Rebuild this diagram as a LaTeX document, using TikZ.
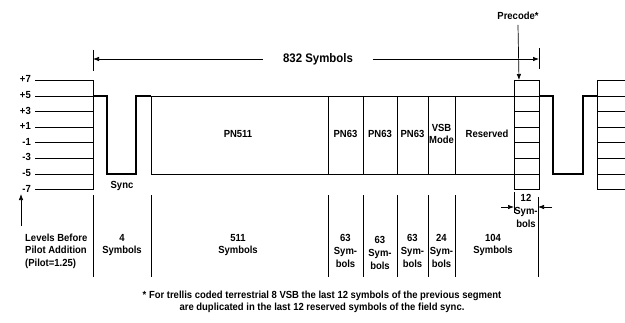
\documentclass[tikz,border=0pt]{standalone}
\usepackage{fontspec}
\setmainfont{Liberation Sans}[FakeStretch=0.92]
\usetikzlibrary{arrows.meta,positioning}

% level heights (y grows downward)
\def\ytop{80}
\def\yhi{96}
\def\ylo{174}
\def\ybot{190}

\begin{document}
\begin{tikzpicture}[x=1pt, y=-1pt,
    lvl/.style={line width=0.7pt},
    sig/.style={line width=1.6pt},
    dim/.style={-{Latex[length=6pt,width=4.5pt]}, line width=0.7pt},
    lbl/.style={font=\bfseries\fontsize{10.3}{12.6}\selectfont, align=center, inner sep=0pt}
]
    \useasboundingbox (0,0) rectangle (625,322);

    % Levels and the two level boxes
    \foreach \l in {7,5,...,-7}{
        \pgfmathsetmacro\yy{135-7.8*\l}
        \draw[lvl] (35,\yy) -- (93,\yy);
        \draw[lvl] (514,\yy) -- (539,\yy);
        \draw[lvl] (597,\yy) -- (625,\yy);
        \node[lbl, anchor=east] (lv\l) at (31,\yy-1) {\ifnum\l>0 +\fi\l};
    }
    \draw[lvl] (93,\ytop) -- (93,\ybot);
    \draw[lvl] (514,\ytop) -- (514,\ybot);
    \draw[lvl] (539,\ytop) -- (539,\ybot);
    \draw[lvl] (597,\ytop) -- (597,\ybot);

    % Data segment frame
    \draw[lvl] (151,\yhi) -- (553,\yhi);
    \draw[lvl] (151,\yhi) -- (151,\ylo) -- (514,\ylo);
    \foreach \x in {328,363,397,428,455}
        \draw[lvl] (\x,\yhi) -- (\x,\ylo);

    % Sync pulses
    \draw[sig] (93,\yhi) -| (107,\ylo) -| (136,\yhi) -- (151,\yhi);
    \draw[sig] (539,\yhi) -| (553,\ylo) -| (583,\yhi) -- (597,\yhi);

    % Labels in the segment
    \node[lbl] (sync) at (122,186) {Sync};
    \node[lbl] (pn511) at (238,134) {PN511};
    \node[lbl] (pnA) at (345.5,134) {PN63};
    \node[lbl] (pnB) at (380,134) {PN63};
    \node[lbl] (pnC) at (412.5,134) {PN63};
    \node[lbl] (vsb) at (441.5,134) {VSB\\Mode};
    \node[lbl] (resv) at (487,134) {Reserved};

    % 832 symbols
    \coordinate (tickL) at (93,59);
    \coordinate (tickR) at (539,59);
    \draw[lvl] (93,50) -- (93,71);
    \draw[lvl] (539,48) -- (539,69);
    \node[lbl, font=\bfseries\fontsize{12.4}{14}\selectfont, inner xsep=20pt] (total) at (318,59) {832 Symbols};
    \draw[dim] (total.west) -- (tickL);
    \draw[dim] (total.east) -- (tickR);

    % Precode
    \coordinate (pcTop) at (519,\ytop);
    \node[lbl] (precode) at (518,16) {Precode*};
    \draw[dim] ([yshift=-5pt]precode.south) -- (pcTop);

    % Bottom columns
    \foreach \x in {93,151,328,363,397,428,455}
        \draw[lvl] (\x,195) -- (\x,277);
    \draw[lvl] (514,192) -- (514,213);
    \draw[lvl] (538,197) -- (538,277);

    \coordinate (s12L) at (514,207);
    \coordinate (s12R) at (538,207);
    \draw[dim] ([xshift=-13pt]s12L) -- (s12L);
    \draw[dim] ([xshift=14pt]s12R) -- (s12R);

    \coordinate (lvUp) at (21,194);
    \draw[dim] (21,226) -- (lvUp);

    \node[lbl, align=left, anchor=west] (levels) at (25,251) {Levels Before\\Pilot Addition\\(Pilot=1.25)};
    \node[lbl] (n4) at (122,245) {4\\Symbols};
    \node[lbl] (n511) at (238,245) {511\\Symbols};
    \node[lbl] (n63a) at (345.5,251) {63\\Sym-\\bols};
    \node[lbl] (n63b) at (380,253) {63\\Sym-\\bols};
    \node[lbl] (n63c) at (412.5,251) {63\\Sym-\\bols};
    \node[lbl] (n24) at (441.5,251) {24\\Sym-\\bols};
    \node[lbl] (n104) at (493,245) {104\\Symbols};
    \node[lbl] (n12) at (526,211) {12\\Sym-\\bols};

    % Footnote
    \node[lbl, font=\bfseries\fontsize{10.3}{11.5}\selectfont] (note) at (322,302)
        {* For trellis coded terrestrial 8 VSB the last 12 symbols of the previous segment\\are duplicated in the last 12 reserved symbols of the field sync.};
\end{tikzpicture}
\end{document}
